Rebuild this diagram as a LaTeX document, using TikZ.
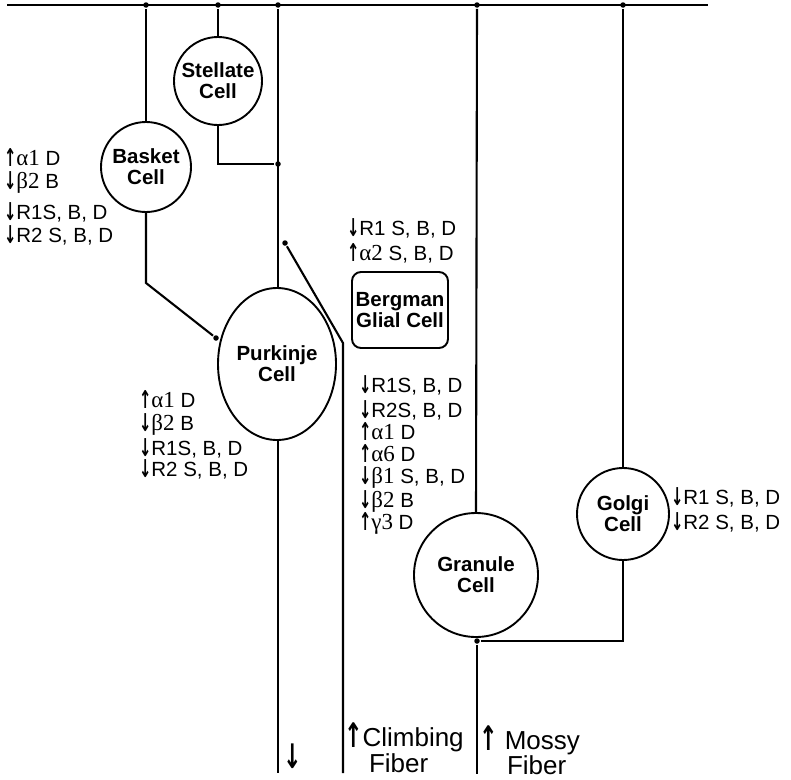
\documentclass[tikz,border=0pt]{standalone}
\usepackage{fontspec}
\usepackage{graphicx}
\setmainfont{Liberation Sans}
\newfontfamily\gr[Scale=1.12]{Liberation Serif}
\newfontfamily\arrfont{DejaVu Sans Bold}
\newcommand\uarr{{\arrfont\raisebox{-0.5pt}{\scalebox{0.72}[1.2]{↑}}}}
\newcommand\darr{{\arrfont\raisebox{-0.5pt}{\scalebox{0.72}[1.2]{↓}}}}
\newcommand\buarr{{\arrfont\raisebox{-1pt}{\scalebox{0.85}[1.3]{↑}}}}
\newcommand\bdarr{{\arrfont\raisebox{-1pt}{\scalebox{0.85}[1.3]{↓}}}}
\usetikzlibrary{shapes.geometric}
\begin{document}
\begin{tikzpicture}[x=1pt,y=-1pt,
  line width=2.1pt,
  cellfont/.style={font=\fontsize{20.5}{21}\selectfont\bfseries},
  cell/.style={draw,circle,line width=1.9pt,inner sep=0pt,align=center,cellfont},
  lbl/.style={anchor=west,inner sep=0pt,font=\fontsize{20.5}{22}\selectfont,text height=15pt,text depth=0pt},
  big/.style={anchor=west,inner sep=0pt,font=\fontsize{26}{28}\selectfont,text height=19pt,text depth=0pt},
  dot/.style={fill,circle,inner sep=0pt,minimum size=5.5pt}]
\useasboundingbox (0,0) rectangle (791,779);
% top line and junctions
\coordinate (tl) at (7,5);
\coordinate (tr) at (708,5);
\draw (tl) -- (tr);
\node[dot] (j1) at (146,5) {};
\node[dot] (j2) at (218,5) {};
\node[dot] (j3) at (278,5) {};
\node[dot] (j4) at (477,5) {};
\node[dot] (j5) at (623,5) {};
% cells
\node[cell,minimum size=88pt] (stellate) at (218,81) {Stellate\\Cell};
\node[cell,minimum size=90pt] (basket) at (146,167) {Basket\\Cell};
\node[draw,ellipse,line width=1.9pt,minimum width=118pt,minimum height=152pt,inner sep=0pt,align=center,cellfont] (purkinje) at (277,364) {Purkinje\\Cell};
\node[draw,rectangle,rounded corners=9pt,line width=1.9pt,minimum width=96pt,minimum height=76pt,inner sep=0pt,align=center,cellfont] (bergman) at (400,310) {Bergman\\Glial Cell};
\node[cell,minimum size=124pt] (granule) at (476,575) {Granule\\Cell};
\node[cell,minimum size=92pt] (golgi) at (623,514) {Golgi\\Cell};
% connection points
\node[dot] (sj) at (278,164) {};
\node[dot] (bd) at (216,338) {};
\coordinate (bk) at (146,283);
\node[dot] (cd) at (285,243) {};
\coordinate (ck) at (343,343);
\coordinate (ce) at (343,773);
\coordinate (pe) at (278,773);
\node[dot] (gj) at (477,641) {};
\coordinate (ge) at (477,774);
% connectors
\draw (j1) -- (basket.north);
\draw (j2) -- (stellate.north);
\draw (j3) -- (j3 |- purkinje.north);
\draw (stellate.south) |- (sj);
\draw (basket.south) -- (bk) -- (bd);
\draw (cd) -- (ck) -- (ce);
\draw (purkinje.south -| j3) -- (pe);
\draw (j4) -- (granule.north);
\draw (j5) -- (golgi.north);
\draw (golgi.south) |- (gj);
\draw (gj) -- (ge);
% labels: basket
\node[lbl] (b1) at (3,158) {\uarr{\gr α1} D};
\node[lbl] (b2) at (3,181) {\darr{\gr β2} B};
\node[lbl] (b3) at (3,212) {\darr R1S, B, D};
\node[lbl] (b4) at (3,235) {\darr R2 S, B, D};
% labels: bergman
\node[lbl] (g1) at (346,228) {\darr R1 S, B, D};
\node[lbl] (g2) at (346,253) {\uarr{\gr α2} S, B, D};
% labels: purkinje
\node[lbl] (p1) at (138,400) {\uarr{\gr α1} D};
\node[lbl] (p2) at (138,423) {\darr{\gr β2} B};
\node[lbl] (p3) at (138,448) {\darr R1S, B, D};
\node[lbl] (p4) at (138,469) {\darr R2 S, B, D};
% labels: granule
\node[lbl] (r1) at (358,385) {\darr R1S, B, D};
\node[lbl] (r2) at (358,410) {\darr R2S, B, D};
\node[lbl] (r3) at (358,432) {\uarr{\gr α1} D};
\node[lbl] (r4) at (358,454) {\uarr{\gr α6} D};
\node[lbl] (r5) at (358,476) {\darr{\gr β1} S, B, D};
\node[lbl] (r6) at (358,500) {\darr{\gr β2} B};
\node[lbl] (r7) at (358,522) {\uarr{\gr γ3} D};
% labels: golgi
\node[lbl] (o1) at (670,497) {\darr R1 S, B, D};
\node[lbl] (o2) at (670,522) {\darr R2 S, B, D};
% bottom labels
\node[big] (pa) at (282,758) {\bdarr};
\node[big] (c1) at (343,737) {\buarr Climbing};
\node[big] (c2) at (368,763) {Fiber};
\node[big] (m1) at (478,740) {\buarr\ Mossy};
\node[big] (m2) at (506,765) {Fiber};
\end{tikzpicture}
\end{document}
